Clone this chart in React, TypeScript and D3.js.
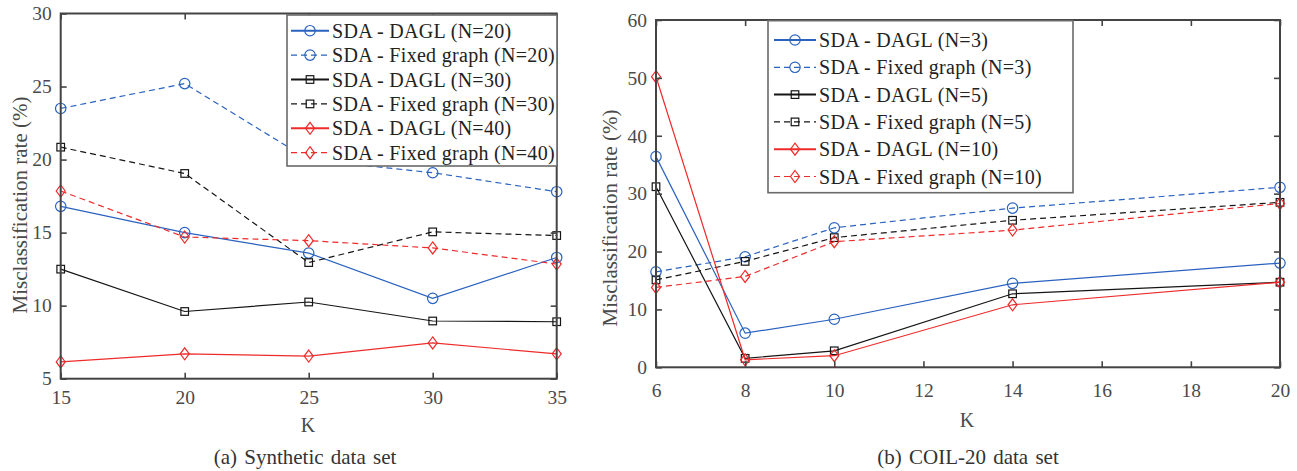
import { useEffect, useRef } from 'react';
import * as d3 from 'd3';

// x values and ticks
const K_SYN = [15, 20, 25, 30, 35];
const K_COIL = [6, 8, 10, 14, 20];
const SYN_X_TICKS = [15, 20, 25, 30, 35];
const SYN_Y_TICKS = [5, 10, 15, 20, 25, 30];
const COIL_X_TICKS = [6, 8, 10, 12, 14, 16, 18, 20];
const COIL_Y_TICKS = [0, 10, 20, 30, 40, 50, 60];

// (a) Synthetic data set
const SYN_DAGL_20 = [16.8, 15.0, 13.6, 10.5, 13.3];
const SYN_FIXED_20 = [23.5, 25.2, 20.0, 19.1, 17.8];
const SYN_DAGL_30 = [12.5, 9.6, 10.25, 8.95, 8.9];
const SYN_FIXED_30 = [20.85, 19.05, 12.95, 15.05, 14.8];
const SYN_DAGL_40 = [6.15, 6.7, 6.55, 7.45, 6.7];
const SYN_FIXED_40 = [17.85, 14.7, 14.45, 13.95, 12.85];

// (b) COIL-20 data set
const COIL_DAGL_3 = [36.4, 5.9, 8.3, 14.5, 18.0];
const COIL_FIXED_3 = [16.5, 19.1, 24.1, 27.5, 31.1];
const COIL_DAGL_5 = [31.2, 1.55, 2.85, 12.7, 14.7];
const COIL_FIXED_5 = [15.1, 18.3, 22.4, 25.4, 28.5];
const COIL_DAGL_10 = [50.2, 1.3, 2.0, 10.8, 14.7];
const COIL_FIXED_10 = [13.8, 15.7, 21.7, 23.7, 28.3];

const SYN_LABELS = [
  'SDA - DAGL (N=20)', 'SDA - Fixed graph (N=20)',
  'SDA - DAGL (N=30)', 'SDA - Fixed graph (N=30)',
  'SDA - DAGL (N=40)', 'SDA - Fixed graph (N=40)',
];
const COIL_LABELS = [
  'SDA - DAGL (N=3)', 'SDA - Fixed graph (N=3)',
  'SDA - DAGL (N=5)', 'SDA - Fixed graph (N=5)',
  'SDA - DAGL (N=10)', 'SDA - Fixed graph (N=10)',
];

const BLUE = '#2a62bf';
const BLACK = '#151515';
const RED = '#ee2b2b';
const AXIS = '#444';
const FONT = '"Liberation Serif", "Times New Roman", serif';

type Marker = 'circle' | 'square' | 'diamond';
interface Series { values: number[]; color: string; dashed: boolean; marker: Marker; label: string }

function styleOf(i: number): { color: string; dashed: boolean; marker: Marker } {
  const color = [BLUE, BLACK, RED][Math.floor(i / 2)];
  const marker = (['circle', 'square', 'diamond'] as Marker[])[Math.floor(i / 2)];
  return { color, dashed: i % 2 === 1, marker };
}

function drawMarker(g: any, m: Marker, x: number, y: number, color: string) {
  if (m === 'circle') {
    g.append('circle').attr('cx', x).attr('cy', y).attr('r', 5.2)
      .attr('fill', 'none').attr('stroke', color).attr('stroke-width', 1.2);
  } else if (m === 'square') {
    g.append('rect').attr('x', x - 3.8).attr('y', y - 3.8).attr('width', 7.6).attr('height', 7.6)
      .attr('fill', 'none').attr('stroke', color).attr('stroke-width', 1.2);
  } else {
    g.append('path').attr('d', `M${x},${y - 6}L${x + 4.5},${y}L${x},${y + 6}L${x - 4.5},${y}Z`)
      .attr('fill', 'none').attr('stroke', color).attr('stroke-width', 1.2);
  }
}

interface Panel {
  x0: number; x1: number; y0: number; y1: number;
  xDomain: [number, number]; yDomain: [number, number];
  xTicks: number[]; yTicks: number[];
  ks: number[]; series: Series[];
  legend: { x: number; y: number; w: number; h: number; row0: number; step: number; lx0: number; lx1: number; tx: number };
  yLabelX: number; yLabelY: number; kX: number; kY: number; xTickY: number; caption: string; capX: number;
}

function drawPanel(svg: any, p: Panel) {
  const x = d3.scaleLinear().domain(p.xDomain).range([p.x0, p.x1]);
  const y = d3.scaleLinear().domain(p.yDomain).range([p.y1, p.y0]);
  const g = svg.append('g');

  // 系列
  const line = d3.line<number>().x((_, i) => x(p.ks[i])).y((d) => y(d));
  p.series.forEach((s) => {
    g.append('path').datum(s.values).attr('d', line)
      .attr('fill', 'none').attr('stroke', s.color).attr('stroke-width', 1.2)
      .attr('stroke-dasharray', s.dashed ? '6,4' : null);
    s.values.forEach((v, i) => drawMarker(g, s.marker, x(p.ks[i]), y(v), s.color));
  });

  // 軸（内向き目盛、箱型）
  const tk = 6;
  const axB = g.append('g').attr('transform', `translate(0,${p.y1})`)
    .call(d3.axisBottom(x).tickValues(p.xTicks).tickSizeInner(-tk).tickSizeOuter(0).tickPadding(0));
  axB.selectAll('text').attr('dy', null).attr('y', p.xTickY - p.y1).attr('dominant-baseline', 'central');
  g.append('g').attr('transform', `translate(0,${p.y0})`)
    .call(d3.axisTop(x).tickValues(p.xTicks).tickSizeInner(-tk).tickSizeOuter(0).tickFormat(() => ''));
  g.append('g').attr('transform', `translate(${p.x0},0)`)
    .call(d3.axisLeft(y).tickValues(p.yTicks).tickSizeInner(-tk).tickSizeOuter(0).tickPadding(9));
  g.append('g').attr('transform', `translate(${p.x1},0)`)
    .call(d3.axisRight(y).tickValues(p.yTicks).tickSizeInner(-tk).tickSizeOuter(0).tickFormat(() => ''));
  g.selectAll('.domain').remove();
  g.selectAll('.tick line').attr('stroke', AXIS).attr('stroke-width', 1.6);
  g.selectAll('.tick text').attr('font-family', FONT).attr('font-size', 19.5).attr('fill', '#4a4a4a');
  g.append('rect').attr('x', p.x0).attr('y', p.y0).attr('width', p.x1 - p.x0).attr('height', p.y1 - p.y0)
    .attr('fill', 'none').attr('stroke', AXIS).attr('stroke-width', 2);

  // ラベル
  g.append('text').attr('x', p.kX).attr('y', p.kY).attr('text-anchor', 'middle')
    .attr('dominant-baseline', 'central').attr('font-family', FONT).attr('font-size', 20).attr('fill', '#4a4a4a').text('K');
  g.append('text').attr('transform', `translate(${p.yLabelX},${p.yLabelY}) rotate(-90)`)
    .attr('text-anchor', 'middle').attr('dominant-baseline', 'central')
    .attr('font-family', FONT).attr('font-size', 21).attr('fill', '#4a4a4a').text('Misclassification rate (%)');
  g.append('text').attr('x', p.capX).attr('y', 457).attr('text-anchor', 'middle')
    .attr('dominant-baseline', 'central').attr('font-family', FONT).attr('font-size', 21).attr('fill', '#333')
    .attr('word-spacing', 2).text(p.caption);

  // 凡例
  const L = p.legend;
  const lg = g.append('g');
  lg.append('rect').attr('x', L.x).attr('y', L.y).attr('width', L.w).attr('height', L.h)
    .attr('fill', '#fff').attr('stroke', '#6a6a6a').attr('stroke-width', 1.6);
  p.series.forEach((s, i) => {
    const ry = L.row0 + i * L.step;
    lg.append('line').attr('x1', L.lx0).attr('x2', L.lx1).attr('y1', ry).attr('y2', ry)
      .attr('stroke', s.color).attr('stroke-width', s.dashed ? 1.2 : 2)
      .attr('stroke-dasharray', s.dashed ? '6,4' : null);
    drawMarker(lg, s.marker, (L.lx0 + L.lx1) / 2, ry, s.color);
    lg.append('text').attr('x', L.tx).attr('y', ry).attr('dominant-baseline', 'central')
      .attr('font-family', FONT).attr('font-size', 20).attr('letter-spacing', 0.3)
      .attr('fill', '#222').text(s.label);
  });
}

export default function App() {
  const ref = useRef<SVGSVGElement>(null);
  useEffect(() => {
    const svg = d3.select(ref.current);
    svg.selectAll('*').remove();
    const synVals = [SYN_DAGL_20, SYN_FIXED_20, SYN_DAGL_30, SYN_FIXED_30, SYN_DAGL_40, SYN_FIXED_40];
    const coilVals = [COIL_DAGL_3, COIL_FIXED_3, COIL_DAGL_5, COIL_FIXED_5, COIL_DAGL_10, COIL_FIXED_10];
    drawPanel(svg, {
      x0: 60.7, x1: 556.7, y0: 13.5, y1: 378.7,
      xDomain: [15, 35], yDomain: [5, 30], xTicks: SYN_X_TICKS, yTicks: SYN_Y_TICKS,
      ks: K_SYN,
      series: synVals.map((v, i) => ({ values: v, label: SYN_LABELS[i], ...styleOf(i) })),
      legend: { x: 287, y: 15, w: 270, h: 151, row0: 30.7, step: 24.4, lx0: 291, lx1: 329, tx: 332 },
      yLabelX: 20, yLabelY: 205, kX: 308, kY: 425, xTickY: 398, caption: '(a) Synthetic data set', capX: 305,
    });
    drawPanel(svg, {
      x0: 656, x1: 1280, y0: 20, y1: 367.3,
      xDomain: [6, 20], yDomain: [0, 60], xTicks: COIL_X_TICKS, yTicks: COIL_Y_TICKS,
      ks: K_COIL,
      series: coilVals.map((v, i) => ({ values: v, label: COIL_LABELS[i], ...styleOf(i) })),
      legend: { x: 768, y: 20.7, w: 305, h: 172, row0: 40, step: 27.3, lx0: 774, lx1: 816, tx: 819 },
      yLabelX: 610, yLabelY: 218, kX: 967, kY: 420, xTickY: 391, caption: '(b) COIL-20 data set', capX: 968,
    });
  }, []);
  return (
    <svg ref={ref} width={1297} height={471}
      style={{ position: 'absolute', left: 0, top: 0, background: '#fff' }} />
  );
}
